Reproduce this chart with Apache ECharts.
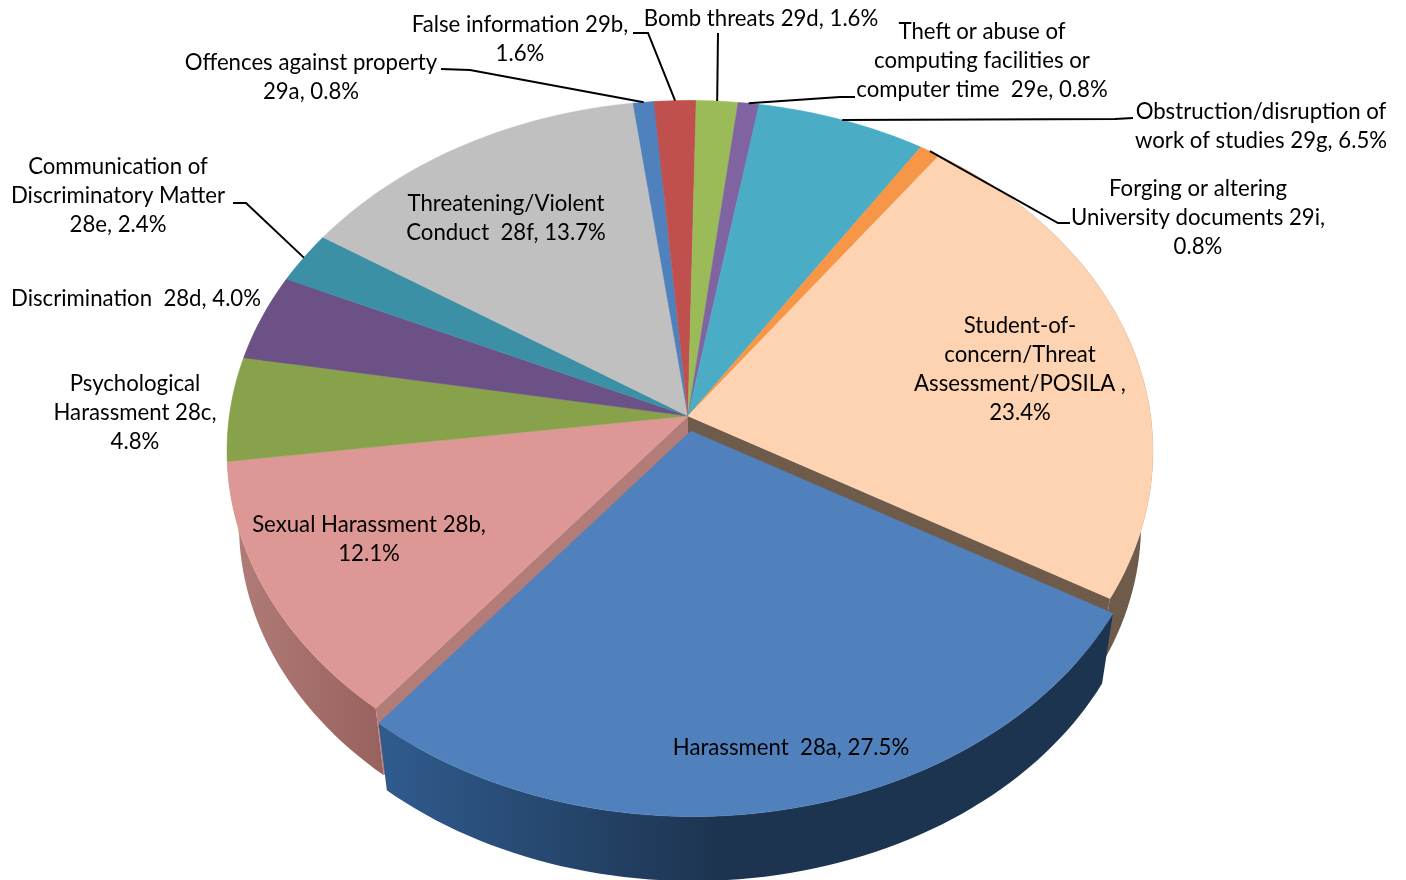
<!DOCTYPE html>
<html>
<head>
<meta charset="utf-8">
<title>Incidents by category</title>
<script src="https://cdn.jsdelivr.net/npm/echarts@6/dist/echarts.min.js"></script>
<style>
  html, body { margin: 0; background: #fff; }
  #chart { width: 1406px; height: 880px; }
</style>
</head>
<body>
<div id="chart"></div>
<script>
// slice order runs clockwise, starting at the right-hand edge of Harassment
var categories = ['Harassment 28a', 'Sexual Harassment 28b', 'Psychological Harassment 28c', 'Discrimination 28d',
  'Communication of Discriminatory Matter 28e', 'Threatening/Violent Conduct 28f', 'Offences against property 29a',
  'False information 29b', 'Bomb threats 29d', 'Theft or abuse of computing facilities or computer time 29e',
  'Obstruction/disruption of work of studies 29g', 'Forging or altering University documents 29i',
  'Student-of-concern/Threat Assessment/POSILA']
var values = [27.5, 12.1, 4.8, 4.0, 2.4, 13.7, 0.8, 1.6, 1.6, 0.8, 6.5, 0.8, 23.4]
var labels = [
  'Harassment  28a, 27.5%',
  'Sexual Harassment 28b,\n12.1%',
  'Psychological\nHarassment 28c,\n4.8%',
  'Discrimination  28d, 4.0%',
  'Communication of\nDiscriminatory Matter\n28e, 2.4%',
  'Threatening/Violent\nConduct  28f, 13.7%',
  'Offences against property\n29a, 0.8%',
  'False information 29b,\n1.6%',
  'Bomb threats 29d, 1.6%',
  'Theft or abuse of\ncomputing facilities or\ncomputer time  29e, 0.8%',
  'Obstruction/disruption of\nwork of studies 29g, 6.5%',
  'Forging or altering\nUniversity documents 29i,\n0.8%',
  'Student-of-\nconcern/Threat\nAssessment/POSILA ,\n23.4%'
]
var topColors = ['#5181bd', '#dd9896', '#88a24c', '#6c5187', '#3c90a6', '#c0c0c0', '#4f81bd',
  '#c0504d', '#9bbb59', '#8064a2', '#4bacc6', '#f79646', '#fdd3b2']

// label centres, and the elbow of the leader line where there is one
var labelCenters = [[791, 748], [369, 539], [135, 413], [136, 299], [118, 196], [506, 218], [311, 77],
  [520, 39], [761, 19], [982, 61], [1261, 126], [1198, 218], [1020, 369]]
var leaders = {
  4: [[233, 203], [246, 203]],
  6: [[441, 69], [470, 70]],
  7: [[633, 33], [648, 33]],
  8: [[718, 33], [718, 33]],
  9: [[855, 97], [840, 97]],
  10: [[1133, 118], [1115, 119]],
  11: [[1070, 223], [1058, 223]]
}

var FONT = '22.2px Lato, "Open Sans", sans-serif'
var START = 120          // degrees clockwise from 12 o'clock
var TILT = -0.1          // how far the apex sits above the ellipse centre (perspective)
var TOP = { cx: 690, cy: 451, rx: 463, ry: 350.5 }
var BASE = { cx: 690, cy: 525, rx: 451, ry: 341 }
var BASE_APEX_DROP = 70
var EXPLODE = [3, 15]    // Harassment is pulled out of the pie

var total = values.reduce(function (a, b) { return a + b }, 0)

function sliceStart(i) {
  var sum = 0
  for (var k = 0; k < i; k++) sum += values[k]
  return START + sum / total * 360
}

// point on a disc for a true pie angle, with the perspective applied
function rim(deg, e) {
  var t = deg * Math.PI / 180
  var u = Math.sin(t), v = -Math.cos(t)
  var d = 1 + TILT * v
  return [e.cx + e.rx * u * Math.sqrt(1 - TILT * TILT) / d, e.cy + e.ry * (v + TILT) / d]
}

function arc(a0, a1, e, off) {
  var pts = []
  var n = Math.max(2, Math.ceil((a1 - a0) / 1.5))
  for (var j = 0; j <= n; j++) {
    var p = rim(a0 + (a1 - a0) * j / n, e)
    pts.push([p[0] + off[0], p[1] + off[1]])
  }
  return pts
}

function gradient(x0, x1, c0, c1) {
  return { type: 'linear', x: x0, y: 0, x2: x1, y2: 0, global: true,
    colorStops: [{ offset: 0, color: c0 }, { offset: 1, color: c1 }] }
}

function wallFill(i) {
  if (i === 0) return gradient(390, 720, '#2f5a8c', '#1d3450')
  if (i === 1) return gradient(230, 390, '#b27c79', '#96605d')
  if (i === 12) return '#6e5b4a'
  return echarts.color.lift(topColors[i], -0.4)
}

function renderSlice(params, api) {
  var i = params.dataIndex
  var a0 = sliceStart(i)
  var a1 = a0 + api.value(0) / total * 360
  var off = i === 0 ? EXPLODE : [0, 0]
  var ax = TOP.cx - 2 + off[0], ay = TOP.cy + TOP.ry * TILT + off[1]
  var topArc = arc(a0, a1, TOP, off)
  var baseArc = arc(a0, a1, BASE, off)
  var lift = i === 0 ? 3 : 0
  var children = [
    { type: 'polygon', z2: 1 + lift, shape: { points: topArc.concat(baseArc.slice().reverse()) },
      style: { fill: wallFill(i) } }
  ]
  // cut faces seen through the gap Harassment leaves behind
  if (i === 12) {
    var e = topArc[topArc.length - 1], f = baseArc[baseArc.length - 1]
    children.push({ type: 'polygon', z2: 2, shape: { points: [[ax, ay], e, f, [ax, ay + BASE_APEX_DROP]] },
      style: { fill: '#6e5b4a' } })
  }
  if (i === 1) {
    var g = topArc[0], h = baseArc[0]
    children.push({ type: 'polygon', z2: 2, shape: { points: [[ax, ay], g, h, [ax, ay + BASE_APEX_DROP]] },
      style: { fill: '#b27c79' } })
  }
  children.push({ type: 'polygon', z2: 2 + lift, shape: { points: [[ax, ay]].concat(topArc) },
    style: { fill: topColors[i], stroke: topColors[i], lineWidth: 0.5 } })
  return { type: 'group', children: children }
}

function labelGraphics() {
  var out = []
  labels.forEach(function (text, i) {
    out.push({ type: 'text', z: 10, style: { text: text, x: labelCenters[i][0], y: labelCenters[i][1],
      align: 'center', verticalAlign: 'middle', font: FONT, lineHeight: 29, fill: '#000' } })
    if (leaders[i]) {
      var mid = sliceStart(i) + values[i] / total * 180
      out.push({ type: 'polyline', z: 9, shape: { points: leaders[i].concat([rim(mid, TOP)]) },
        style: { fill: null, stroke: '#000', lineWidth: 2 } })
    }
  })
  return out
}

var chart = echarts.init(document.getElementById('chart'), null, { renderer: 'canvas' })
chart.setOption({
  animation: false,
  backgroundColor: '#fff',
  series: [{
    type: 'custom',
    coordinateSystem: 'none',
    renderItem: renderSlice,
    data: values.map(function (v, i) { return { name: categories[i], value: [v] } }),
    silent: true
  }],
  graphic: labelGraphics()
})
</script>
</body>
</html>
